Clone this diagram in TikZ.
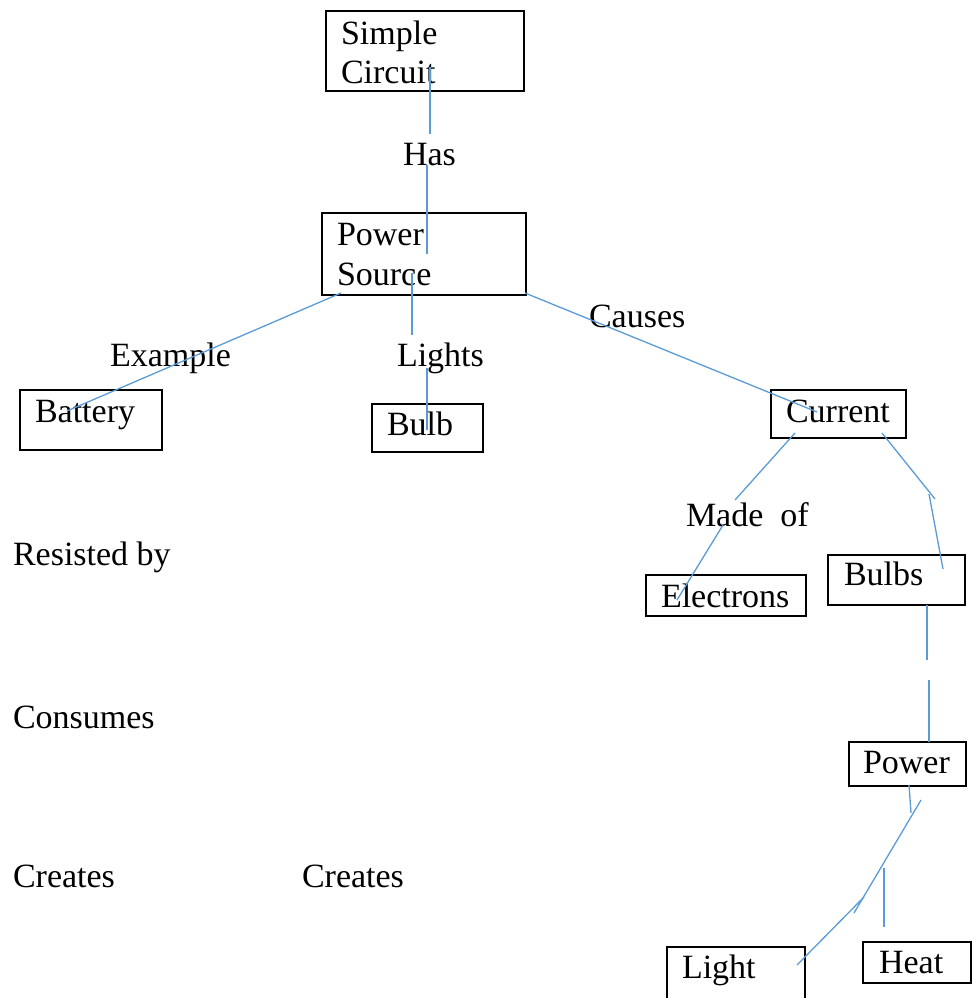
\documentclass[tikz,border=0pt]{standalone}
\usepackage{fontspec}
\setmainfont{Liberation Serif}
\definecolor{linkblue}{RGB}{91,155,213}
\tikzset{
  box/.style={draw=black, line width=1.8pt, inner sep=0pt, outer sep=0pt, anchor=north west},
  txt/.style={inner sep=0pt, outer sep=0pt, anchor=base west, font=\fontsize{34}{39}\selectfont},
  link/.style={draw=linkblue, line width=1.3pt}
}
\newcommand{\boxat}[5]{\node[box, minimum width=#4pt, minimum height=#5pt] (#1) at (#2,#3) {};}
\begin{document}
\begin{tikzpicture}[x=1pt,y=-1pt]
\useasboundingbox (0,0) rectangle (973,998);
% boxes
\boxat{sc}{326}{11}{198}{80}
\boxat{ps}{322}{213}{204}{82}
\boxat{bat}{20}{390}{142}{60}
\boxat{bulb}{372}{404}{111}{48}
\boxat{cur}{771}{390}{135}{48}
\boxat{ele}{646}{575}{160}{41}
\boxat{bulbs}{828}{555}{137}{50}
\boxat{pow}{849}{742}{117}{44}
\boxat{light}{667}{947}{138}{70}
\boxat{heat}{863}{942}{108}{41}
% box texts
\node[txt] (sc1) at (341,45) {Simple};
\node[txt] (sc2) at (341,83) {Circuit};
\node[txt] (ps1) at (337,245) {Power};
\node[txt] (ps2) at (337,285) {Source};
\node[txt] (batt) at (35,422) {Battery};
\node[txt] (bulbt) at (387,435) {Bulb};
\node[txt] (curt) at (786,422) {Current};
\node[txt] (elet) at (661,607) {Electrons};
\node[txt] (bulbst) at (844,585) {Bulbs};
\node[txt] (powt) at (863,773) {Power};
\node[txt] (lightt) at (682,978) {Light};
\node[txt] (heatt) at (879,973) {Heat};
% labels
\node[txt] (has) at (403,165) {Has};
\node[txt] (example) at (110,366) {Example};
\node[txt] (lights) at (397,366) {Lights};
\node[txt] (causes) at (589,327) {Causes};
\node[txt] (madeof) at (686,526) {Made~~of};
\node[txt] (resisted) at (13,565) {Resisted by};
\node[txt] (consumes) at (13,728) {Consumes};
\node[txt] (creates1) at (13,887) {Creates};
\node[txt] (creates2) at (302,887) {Creates};
% connector end points
\coordinate (a1) at (430,67);  \coordinate (a2) at (430,134);
\coordinate (b1) at (427,165); \coordinate (b2) at (427,254);
\coordinate (c1) at (341,293); \coordinate (c2) at (67,411);
\coordinate (d1) at (412,273); \coordinate (d2) at (412,335);
\coordinate (e1) at (427,368); \coordinate (e2) at (427,430);
\coordinate (f1) at (525,293); \coordinate (f2) at (817,412);
\coordinate (g1) at (795,433); \coordinate (g2) at (735,500);
\coordinate (h1) at (723,525); \coordinate (h2) at (677,600);
\coordinate (i1) at (882,433); \coordinate (i2) at (935,499);
\coordinate (j1) at (929,494); \coordinate (j2) at (943,569);
\coordinate (k1) at (927,605); \coordinate (k2) at (927,660);
\coordinate (l1) at (929,680); \coordinate (l2) at (929,742);
\coordinate (m1) at (909,785); \coordinate (m2) at (911,813);
\coordinate (n1) at (921,800); \coordinate (n2) at (854,913);
\coordinate (o1) at (864,897); \coordinate (o2) at (797,965);
\coordinate (p1) at (884,868); \coordinate (p2) at (884,927);
% connectors
\draw[link] (a1) -- (a2);
\draw[link] (b1) -- (b2);
\draw[link] (c1) -- (c2);
\draw[link] (d1) -- (d2);
\draw[link] (e1) -- (e2);
\draw[link] (f1) -- (f2);
\draw[link] (g1) -- (g2);
\draw[link] (h1) -- (h2);
\draw[link] (i1) -- (i2);
\draw[link] (j1) -- (j2);
\draw[link] (k1) -- (k2);
\draw[link] (l1) -- (l2);
\draw[link] (m1) -- (m2);
\draw[link] (n1) -- (n2);
\draw[link] (o1) -- (o2);
\draw[link] (p1) -- (p2);
\end{tikzpicture}
\end{document}
